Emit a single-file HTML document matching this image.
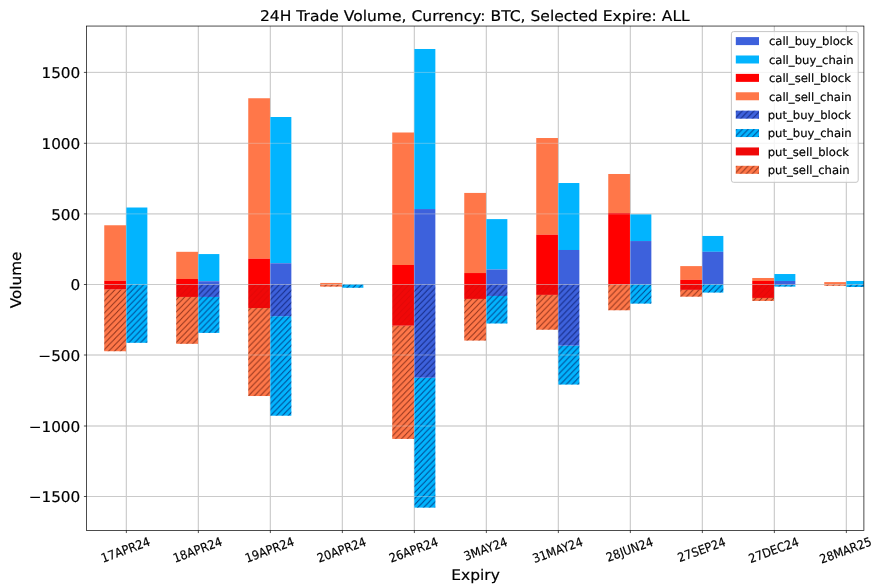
<!DOCTYPE html>
<html><head><meta charset="utf-8"><title>24H Trade Volume</title>
<style>html,body{margin:0;padding:0;background:#fff;}svg{display:block;filter:blur(0.3px);}text{font-family:"DejaVu Sans","Liberation Sans",sans-serif;fill:#000;text-rendering:geometricPrecision;stroke:#000;stroke-width:0.18px;}</style>
</head><body>
<svg width="881" height="586" viewBox="0 0 881 586">
<defs>
<pattern id="h" patternUnits="userSpaceOnUse" width="5.9" height="6.1"><path d="M-5.9,6.1 L5.9,-6.1 M0,6.1 L5.9,0 M0,12.2 L11.8,0" stroke="#000" stroke-width="0.9" stroke-opacity="0.6" fill="none"/></pattern>
<pattern id="hb" patternUnits="userSpaceOnUse" width="5.9" height="6.1"><path d="M-5.9,6.1 L5.9,-6.1 M0,6.1 L5.9,0 M0,12.2 L11.8,0" stroke="#000c55" stroke-width="0.9" stroke-opacity="0.72" fill="none"/></pattern>
<pattern id="hc" patternUnits="userSpaceOnUse" width="5.9" height="6.1"><path d="M-5.9,6.1 L5.9,-6.1 M0,6.1 L5.9,0 M0,12.2 L11.8,0" stroke="#4a0800" stroke-width="0.9" stroke-opacity="0.66" fill="none"/></pattern>
<pattern id="hf" patternUnits="userSpaceOnUse" width="5.9" height="6.1"><path d="M-5.9,6.1 L5.9,-6.1 M0,6.1 L5.9,0 M0,12.2 L11.8,0" stroke="#7a0000" stroke-width="0.9" stroke-opacity="0.13" fill="none"/></pattern>
<clipPath id="ax"><rect x="86.5" y="26.05" width="777.4" height="504.40000000000003"/></clipPath>
</defs>
<rect width="881" height="586" fill="#fff"/>
<g stroke="#b0b0b0" stroke-width="0.85" stroke-opacity="0.95">
<line x1="126.35" y1="26.05" x2="126.35" y2="530.45"/>
<line x1="198.35" y1="26.05" x2="198.35" y2="530.45"/>
<line x1="270.35" y1="26.05" x2="270.35" y2="530.45"/>
<line x1="342.35" y1="26.05" x2="342.35" y2="530.45"/>
<line x1="414.35" y1="26.05" x2="414.35" y2="530.45"/>
<line x1="486.35" y1="26.05" x2="486.35" y2="530.45"/>
<line x1="558.35" y1="26.05" x2="558.35" y2="530.45"/>
<line x1="630.35" y1="26.05" x2="630.35" y2="530.45"/>
<line x1="702.35" y1="26.05" x2="702.35" y2="530.45"/>
<line x1="774.35" y1="26.05" x2="774.35" y2="530.45"/>
<line x1="846.35" y1="26.05" x2="846.35" y2="530.45"/>
<line x1="86.5" y1="72.4" x2="863.9" y2="72.4"/>
<line x1="86.5" y1="143.3" x2="863.9" y2="143.3"/>
<line x1="86.5" y1="213.9" x2="863.9" y2="213.9"/>
<line x1="86.5" y1="284.5" x2="863.9" y2="284.5"/>
<line x1="86.5" y1="355.0" x2="863.9" y2="355.0"/>
<line x1="86.5" y1="426.0" x2="863.9" y2="426.0"/>
<line x1="86.5" y1="496.5" x2="863.9" y2="496.5"/>
</g>
<g clip-path="url(#ax)" shape-rendering="auto">
<rect x="104.25" y="225.26" width="21.80" height="55.49" fill="#FF7749"/>
<rect x="104.25" y="280.75" width="21.80" height="3.75" fill="#FF0000"/>
<rect x="104.25" y="289.45" width="21.80" height="61.79" fill="#FF7749"/>
<rect x="104.25" y="289.45" width="21.80" height="61.79" fill="url(#hc)"/>
<rect x="104.25" y="284.50" width="21.80" height="4.95" fill="#F00808"/>
<rect x="104.25" y="284.50" width="21.80" height="4.95" fill="url(#hf)"/>
<rect x="126.05" y="207.51" width="21.30" height="76.99" fill="#02B4FE"/>
<rect x="126.05" y="284.50" width="21.30" height="58.31" fill="#02B4FE"/>
<rect x="126.05" y="284.50" width="21.30" height="58.31" fill="url(#hb)"/>
<rect x="176.25" y="251.81" width="21.80" height="27.17" fill="#FF7749"/>
<rect x="176.25" y="278.98" width="21.80" height="5.52" fill="#FF0000"/>
<rect x="176.25" y="296.95" width="21.80" height="46.85" fill="#FF7749"/>
<rect x="176.25" y="296.95" width="21.80" height="46.85" fill="url(#hc)"/>
<rect x="176.25" y="284.50" width="21.80" height="12.45" fill="#F00808"/>
<rect x="176.25" y="284.50" width="21.80" height="12.45" fill="url(#hf)"/>
<rect x="198.05" y="254.07" width="21.30" height="27.17" fill="#02B4FE"/>
<rect x="198.05" y="281.24" width="21.30" height="3.26" fill="#3D61DC"/>
<rect x="198.05" y="296.95" width="21.30" height="35.95" fill="#02B4FE"/>
<rect x="198.05" y="296.95" width="21.30" height="35.95" fill="url(#hb)"/>
<rect x="198.05" y="284.50" width="21.30" height="12.45" fill="#3D61DC"/>
<rect x="198.05" y="284.50" width="21.30" height="12.45" fill="url(#hb)"/>
<rect x="248.25" y="98.25" width="21.80" height="160.50" fill="#FF7749"/>
<rect x="248.25" y="258.74" width="21.80" height="25.76" fill="#FF0000"/>
<rect x="248.25" y="307.99" width="21.80" height="88.03" fill="#FF7749"/>
<rect x="248.25" y="307.99" width="21.80" height="88.03" fill="url(#hc)"/>
<rect x="248.25" y="284.50" width="21.80" height="23.49" fill="#F00808"/>
<rect x="248.25" y="284.50" width="21.80" height="23.49" fill="url(#hf)"/>
<rect x="270.05" y="117.00" width="21.30" height="146.27" fill="#02B4FE"/>
<rect x="270.05" y="263.27" width="21.30" height="21.23" fill="#3D61DC"/>
<rect x="270.05" y="316.20" width="21.30" height="99.50" fill="#02B4FE"/>
<rect x="270.05" y="316.20" width="21.30" height="99.50" fill="url(#hb)"/>
<rect x="270.05" y="284.50" width="21.30" height="31.70" fill="#3D61DC"/>
<rect x="270.05" y="284.50" width="21.30" height="31.70" fill="url(#hb)"/>
<rect x="320.25" y="282.94" width="21.80" height="1.56" fill="#FF7749"/>
<rect x="320.25" y="284.50" width="21.80" height="2.12" fill="#FF7749"/>
<rect x="320.25" y="284.50" width="21.80" height="2.12" fill="url(#hc)"/>
<rect x="342.05" y="284.29" width="21.30" height="0.21" fill="#02B4FE"/>
<rect x="342.05" y="284.50" width="21.30" height="3.26" fill="#02B4FE"/>
<rect x="342.05" y="284.50" width="21.30" height="3.26" fill="url(#hb)"/>
<rect x="392.25" y="132.50" width="21.80" height="132.50" fill="#FF7749"/>
<rect x="392.25" y="265.00" width="21.80" height="19.50" fill="#FF0000"/>
<rect x="392.25" y="325.69" width="21.80" height="113.22" fill="#FF7749"/>
<rect x="392.25" y="325.69" width="21.80" height="113.22" fill="url(#hc)"/>
<rect x="392.25" y="284.50" width="21.80" height="41.19" fill="#F00808"/>
<rect x="392.25" y="284.50" width="21.80" height="41.19" fill="url(#hf)"/>
<rect x="414.05" y="48.99" width="21.30" height="160.07" fill="#02B4FE"/>
<rect x="414.05" y="209.06" width="21.30" height="75.44" fill="#3D61DC"/>
<rect x="414.05" y="377.71" width="21.30" height="129.92" fill="#02B4FE"/>
<rect x="414.05" y="377.71" width="21.30" height="129.92" fill="url(#hb)"/>
<rect x="414.05" y="284.50" width="21.30" height="93.21" fill="#3D61DC"/>
<rect x="414.05" y="284.50" width="21.30" height="93.21" fill="url(#hb)"/>
<rect x="464.25" y="192.93" width="21.80" height="80.11" fill="#FF7749"/>
<rect x="464.25" y="273.04" width="21.80" height="11.46" fill="#FF0000"/>
<rect x="464.25" y="298.94" width="21.80" height="41.61" fill="#FF7749"/>
<rect x="464.25" y="298.94" width="21.80" height="41.61" fill="url(#hc)"/>
<rect x="464.25" y="284.50" width="21.80" height="14.44" fill="#F00808"/>
<rect x="464.25" y="284.50" width="21.80" height="14.44" fill="url(#hf)"/>
<rect x="486.05" y="219.11" width="21.30" height="50.38" fill="#02B4FE"/>
<rect x="486.05" y="269.50" width="21.30" height="15.00" fill="#3D61DC"/>
<rect x="486.05" y="295.96" width="21.30" height="27.53" fill="#02B4FE"/>
<rect x="486.05" y="295.96" width="21.30" height="27.53" fill="url(#hb)"/>
<rect x="486.05" y="284.50" width="21.30" height="11.46" fill="#3D61DC"/>
<rect x="486.05" y="284.50" width="21.30" height="11.46" fill="url(#hb)"/>
<rect x="536.25" y="138.02" width="21.80" height="96.74" fill="#FF7749"/>
<rect x="536.25" y="234.75" width="21.80" height="49.75" fill="#FF0000"/>
<rect x="536.25" y="294.90" width="21.80" height="34.83" fill="#FF7749"/>
<rect x="536.25" y="294.90" width="21.80" height="34.83" fill="url(#hc)"/>
<rect x="536.25" y="284.50" width="21.80" height="10.40" fill="#F00808"/>
<rect x="536.25" y="284.50" width="21.80" height="10.40" fill="url(#hf)"/>
<rect x="558.05" y="183.02" width="21.30" height="66.97" fill="#02B4FE"/>
<rect x="558.05" y="249.99" width="21.30" height="34.51" fill="#3D61DC"/>
<rect x="558.05" y="345.60" width="21.30" height="38.96" fill="#02B4FE"/>
<rect x="558.05" y="345.60" width="21.30" height="38.96" fill="url(#hb)"/>
<rect x="558.05" y="284.50" width="21.30" height="61.10" fill="#3D61DC"/>
<rect x="558.05" y="284.50" width="21.30" height="61.10" fill="url(#hb)"/>
<rect x="608.25" y="173.99" width="21.80" height="39.03" fill="#FF7749"/>
<rect x="608.25" y="213.03" width="21.80" height="71.47" fill="#FF0000"/>
<rect x="608.25" y="284.50" width="21.80" height="25.76" fill="#FF7749"/>
<rect x="608.25" y="284.50" width="21.80" height="25.76" fill="url(#hc)"/>
<rect x="630.05" y="214.30" width="21.30" height="26.75" fill="#02B4FE"/>
<rect x="630.05" y="241.05" width="21.30" height="43.45" fill="#3D61DC"/>
<rect x="630.05" y="284.50" width="21.30" height="19.11" fill="#02B4FE"/>
<rect x="630.05" y="284.50" width="21.30" height="19.11" fill="url(#hb)"/>
<rect x="680.25" y="266.10" width="21.80" height="13.80" fill="#FF7749"/>
<rect x="680.25" y="279.90" width="21.80" height="4.60" fill="#FF0000"/>
<rect x="680.25" y="289.88" width="21.80" height="6.79" fill="#FF7749"/>
<rect x="680.25" y="289.88" width="21.80" height="6.79" fill="url(#hc)"/>
<rect x="680.25" y="284.50" width="21.80" height="5.38" fill="#F00808"/>
<rect x="680.25" y="284.50" width="21.80" height="5.38" fill="url(#hf)"/>
<rect x="702.05" y="235.96" width="21.30" height="15.85" fill="#02B4FE"/>
<rect x="702.05" y="251.81" width="21.30" height="32.69" fill="#3D61DC"/>
<rect x="702.05" y="284.50" width="21.30" height="8.07" fill="#02B4FE"/>
<rect x="702.05" y="284.50" width="21.30" height="8.07" fill="url(#hb)"/>
<rect x="752.25" y="277.99" width="21.80" height="2.97" fill="#FF7749"/>
<rect x="752.25" y="280.96" width="21.80" height="3.54" fill="#FF0000"/>
<rect x="752.25" y="297.95" width="21.80" height="2.97" fill="#FF7749"/>
<rect x="752.25" y="297.95" width="21.80" height="2.97" fill="url(#hc)"/>
<rect x="752.25" y="284.50" width="21.80" height="13.45" fill="#F00808"/>
<rect x="752.25" y="284.50" width="21.80" height="13.45" fill="url(#hf)"/>
<rect x="774.05" y="274.03" width="21.30" height="6.93" fill="#02B4FE"/>
<rect x="774.05" y="280.96" width="21.30" height="3.54" fill="#3D61DC"/>
<rect x="774.05" y="284.92" width="21.30" height="1.70" fill="#02B4FE"/>
<rect x="774.05" y="284.92" width="21.30" height="1.70" fill="url(#hb)"/>
<rect x="774.05" y="284.50" width="21.30" height="0.42" fill="#3D61DC"/>
<rect x="774.05" y="284.50" width="21.30" height="0.42" fill="url(#hb)"/>
<rect x="824.25" y="282.09" width="21.80" height="2.41" fill="#FF7749"/>
<rect x="824.25" y="284.50" width="21.80" height="1.27" fill="#FF7749"/>
<rect x="824.25" y="284.50" width="21.80" height="1.27" fill="url(#hc)"/>
<rect x="846.05" y="280.96" width="21.30" height="3.54" fill="#02B4FE"/>
<rect x="846.05" y="284.50" width="21.30" height="2.51" fill="#02B4FE"/>
<rect x="846.05" y="284.50" width="21.30" height="2.51" fill="url(#hb)"/>
</g>
<g stroke="#dcdcdc" stroke-width="0.9" stroke-opacity="0.42">
<line x1="126.35" y1="26.05" x2="126.35" y2="530.45"/>
<line x1="198.35" y1="26.05" x2="198.35" y2="530.45"/>
<line x1="270.35" y1="26.05" x2="270.35" y2="530.45"/>
<line x1="342.35" y1="26.05" x2="342.35" y2="530.45"/>
<line x1="414.35" y1="26.05" x2="414.35" y2="530.45"/>
<line x1="486.35" y1="26.05" x2="486.35" y2="530.45"/>
<line x1="558.35" y1="26.05" x2="558.35" y2="530.45"/>
<line x1="630.35" y1="26.05" x2="630.35" y2="530.45"/>
<line x1="702.35" y1="26.05" x2="702.35" y2="530.45"/>
<line x1="774.35" y1="26.05" x2="774.35" y2="530.45"/>
<line x1="846.35" y1="26.05" x2="846.35" y2="530.45"/>
<line x1="86.5" y1="72.4" x2="863.9" y2="72.4"/>
<line x1="86.5" y1="143.3" x2="863.9" y2="143.3"/>
<line x1="86.5" y1="213.9" x2="863.9" y2="213.9"/>
<line x1="86.5" y1="284.5" x2="863.9" y2="284.5"/>
<line x1="86.5" y1="355.0" x2="863.9" y2="355.0"/>
<line x1="86.5" y1="426.0" x2="863.9" y2="426.0"/>
<line x1="86.5" y1="496.5" x2="863.9" y2="496.5"/>
</g>
<g stroke="#000" stroke-width="0.7">
<line x1="126.35" y1="530.45" x2="126.35" y2="533.0500000000001"/>
<line x1="198.35" y1="530.45" x2="198.35" y2="533.0500000000001"/>
<line x1="270.35" y1="530.45" x2="270.35" y2="533.0500000000001"/>
<line x1="342.35" y1="530.45" x2="342.35" y2="533.0500000000001"/>
<line x1="414.35" y1="530.45" x2="414.35" y2="533.0500000000001"/>
<line x1="486.35" y1="530.45" x2="486.35" y2="533.0500000000001"/>
<line x1="558.35" y1="530.45" x2="558.35" y2="533.0500000000001"/>
<line x1="630.35" y1="530.45" x2="630.35" y2="533.0500000000001"/>
<line x1="702.35" y1="530.45" x2="702.35" y2="533.0500000000001"/>
<line x1="774.35" y1="530.45" x2="774.35" y2="533.0500000000001"/>
<line x1="846.35" y1="530.45" x2="846.35" y2="533.0500000000001"/>
<line x1="83.9" y1="72.4" x2="86.5" y2="72.4"/>
<line x1="83.9" y1="143.3" x2="86.5" y2="143.3"/>
<line x1="83.9" y1="213.9" x2="86.5" y2="213.9"/>
<line x1="83.9" y1="284.5" x2="86.5" y2="284.5"/>
<line x1="83.9" y1="355.0" x2="86.5" y2="355.0"/>
<line x1="83.9" y1="426.0" x2="86.5" y2="426.0"/>
<line x1="83.9" y1="496.5" x2="86.5" y2="496.5"/>
</g>
<rect x="86.5" y="26.05" width="777.4" height="504.40000000000003" fill="none" stroke="#000" stroke-width="0.7"/>
<text transform="translate(80.3,78.10) scale(1.04,1)" font-size="14.7" text-anchor="end">1500</text>
<text transform="translate(80.3,149.00) scale(1.04,1)" font-size="14.7" text-anchor="end">1000</text>
<text transform="translate(80.3,219.60) scale(1.04,1)" font-size="14.7" text-anchor="end">500</text>
<text transform="translate(80.3,290.20) scale(1.04,1)" font-size="14.7" text-anchor="end">0</text>
<text transform="translate(80.3,360.70) scale(1.04,1)" font-size="14.7" text-anchor="end">−500</text>
<text transform="translate(80.3,431.70) scale(1.04,1)" font-size="14.7" text-anchor="end">−1000</text>
<text transform="translate(80.3,502.20) scale(1.04,1)" font-size="14.7" text-anchor="end">−1500</text>
<text transform="translate(125.70,550.14) rotate(-20) scale(0.92,1)" font-size="12.3" text-anchor="middle" dominant-baseline="central">17APR24</text>
<text transform="translate(197.70,550.14) rotate(-20) scale(0.92,1)" font-size="12.3" text-anchor="middle" dominant-baseline="central">18APR24</text>
<text transform="translate(269.70,550.14) rotate(-20) scale(0.92,1)" font-size="12.3" text-anchor="middle" dominant-baseline="central">19APR24</text>
<text transform="translate(341.70,550.21) rotate(-20) scale(0.92,1)" font-size="12.3" text-anchor="middle" dominant-baseline="central">20APR24</text>
<text transform="translate(413.70,550.21) rotate(-20) scale(0.92,1)" font-size="12.3" text-anchor="middle" dominant-baseline="central">26APR24</text>
<text transform="translate(485.70,549.18) rotate(-20) scale(0.92,1)" font-size="12.3" text-anchor="middle" dominant-baseline="central">3MAY24</text>
<text transform="translate(557.70,550.40) rotate(-20) scale(0.92,1)" font-size="12.3" text-anchor="middle" dominant-baseline="central">31MAY24</text>
<text transform="translate(629.70,549.81) rotate(-20) scale(0.92,1)" font-size="12.3" text-anchor="middle" dominant-baseline="central">28JUN24</text>
<text transform="translate(701.70,550.00) rotate(-20) scale(0.92,1)" font-size="12.3" text-anchor="middle" dominant-baseline="central">27SEP24</text>
<text transform="translate(773.70,550.44) rotate(-20) scale(0.92,1)" font-size="12.3" text-anchor="middle" dominant-baseline="central">27DEC24</text>
<text transform="translate(845.70,550.66) rotate(-20) scale(0.92,1)" font-size="12.3" text-anchor="middle" dominant-baseline="central">28MAR25</text>
<text transform="translate(474.8,20.8) scale(1.058,1)" font-size="14.7" text-anchor="middle">24H Trade Volume, Currency: BTC, Selected Expire: ALL</text>
<text transform="translate(475.6,580.25) scale(1.045,1)" font-size="14.8" text-anchor="middle">Expiry</text>
<text transform="translate(21.4,279.9) rotate(-90) scale(1.04,1)" font-size="14.7" text-anchor="middle">Volume</text>
<rect x="731.4" y="31.6" width="126.8" height="150.7" rx="2.2" ry="2.2" fill="#fff" fill-opacity="0.8" stroke="#c6c6c6" stroke-opacity="1" stroke-width="1"/>
<rect x="735.8" y="37.10" width="23.2" height="8" fill="#3D61DC"/>
<text transform="translate(768.9,45.35) scale(1.015,1)" font-size="11.45">call_buy_block</text>
<rect x="735.8" y="55.49" width="23.2" height="8" fill="#02B4FE"/>
<text transform="translate(768.9,63.74) scale(1.015,1)" font-size="11.45">call_buy_chain</text>
<rect x="735.8" y="73.88" width="23.2" height="8" fill="#FF0000"/>
<text transform="translate(768.9,82.13) scale(1.015,1)" font-size="11.45">call_sell_block</text>
<rect x="735.8" y="92.27" width="23.2" height="8" fill="#FF7749"/>
<text transform="translate(768.9,100.52) scale(1.015,1)" font-size="11.45">call_sell_chain</text>
<rect x="735.8" y="110.66" width="23.2" height="8" fill="#3D61DC"/>
<rect x="735.8" y="110.66" width="23.2" height="8" fill="url(#hb)"/>
<text transform="translate(767.7,118.91) scale(1.015,1)" font-size="11.45">put_buy_block</text>
<rect x="735.8" y="129.05" width="23.2" height="8" fill="#02B4FE"/>
<rect x="735.8" y="129.05" width="23.2" height="8" fill="url(#hb)"/>
<text transform="translate(767.7,137.30) scale(1.015,1)" font-size="11.45">put_buy_chain</text>
<rect x="735.8" y="147.44" width="23.2" height="8" fill="#F00808"/>
<text transform="translate(767.7,155.69) scale(1.015,1)" font-size="11.45">put_sell_block</text>
<rect x="735.8" y="165.83" width="23.2" height="8" fill="#FF7749"/>
<rect x="735.8" y="165.83" width="23.2" height="8" fill="url(#hc)"/>
<text transform="translate(767.7,174.08) scale(1.015,1)" font-size="11.45">put_sell_chain</text>
</svg>
</body></html>
